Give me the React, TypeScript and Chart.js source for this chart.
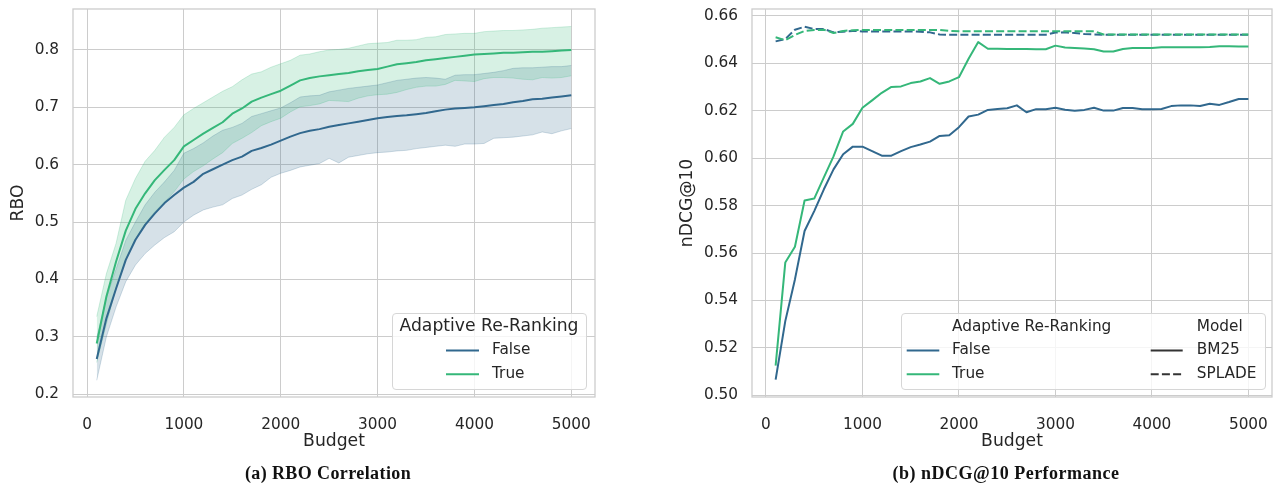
import React, { useEffect, useRef } from 'react';
import { Chart, registerables } from 'chart.js';

Chart.register(...registerables);

// ---------------- data ----------------
const budgets = [
  100, 200, 300, 400, 500, 600, 700, 800, 900, 1000,
  1100, 1200, 1300, 1400, 1500, 1600, 1700, 1800, 1900, 2000,
  2100, 2200, 2300, 2400, 2500, 2600, 2700, 2800, 2900, 3000,
  3100, 3200, 3300, 3400, 3500, 3600, 3700, 3800, 3900, 4000,
  4100, 4200, 4300, 4400, 4500, 4600, 4700, 4800, 4900, 5000,
];

const rboFalse = [
  0.261, 0.332, 0.384, 0.434, 0.469, 0.495, 0.515, 0.533, 0.547, 0.560,
  0.570, 0.584, 0.592, 0.600, 0.608, 0.614, 0.624, 0.629, 0.635, 0.642,
  0.649, 0.655, 0.659, 0.662, 0.666, 0.669, 0.672, 0.675, 0.678, 0.681,
  0.683, 0.685, 0.686, 0.688, 0.690, 0.693, 0.696, 0.698, 0.699, 0.700,
  0.702, 0.704, 0.706, 0.709, 0.711, 0.714, 0.715, 0.717, 0.719, 0.721,
];
const rboFalseLow = [
  0.224, 0.300, 0.352, 0.396, 0.425, 0.445, 0.460, 0.473, 0.483, 0.500,
  0.512, 0.521, 0.526, 0.530, 0.541, 0.547, 0.557, 0.565, 0.578, 0.585,
  0.590, 0.596, 0.599, 0.602, 0.611, 0.603, 0.613, 0.616, 0.619, 0.621,
  0.622, 0.624, 0.625, 0.628, 0.630, 0.632, 0.634, 0.632, 0.636, 0.636,
  0.637, 0.646, 0.647, 0.648, 0.650, 0.652, 0.657, 0.654, 0.659, 0.663,
];
const rboFalseHigh = [
  0.298, 0.368, 0.418, 0.468, 0.500, 0.530, 0.552, 0.570, 0.590, 0.620,
  0.628, 0.638, 0.650, 0.660, 0.665, 0.672, 0.684, 0.689, 0.694, 0.699,
  0.708, 0.718, 0.720, 0.721, 0.727, 0.730, 0.733, 0.735, 0.737, 0.739,
  0.743, 0.747, 0.749, 0.751, 0.752, 0.751, 0.749, 0.756, 0.757, 0.757,
  0.759, 0.761, 0.764, 0.768, 0.769, 0.769, 0.770, 0.771, 0.771, 0.773,
];
const rboTrue = [
  0.288, 0.370, 0.431, 0.485, 0.523, 0.550, 0.573, 0.591, 0.608, 0.632,
  0.643, 0.654, 0.664, 0.674, 0.689, 0.698, 0.710, 0.717, 0.723, 0.729,
  0.738, 0.747, 0.751, 0.754, 0.756, 0.758, 0.760, 0.763, 0.765, 0.767,
  0.771, 0.775, 0.777, 0.779, 0.782, 0.784, 0.786, 0.788, 0.790, 0.792,
  0.793, 0.794, 0.795, 0.795, 0.796, 0.797, 0.797, 0.798, 0.799, 0.800,
];
const rboTrueLow = [
  0.255, 0.322, 0.385, 0.435, 0.470, 0.497, 0.518, 0.535, 0.553, 0.575,
  0.588, 0.598, 0.610, 0.621, 0.637, 0.646, 0.656, 0.668, 0.675, 0.681,
  0.692, 0.701, 0.703, 0.706, 0.712, 0.711, 0.710, 0.716, 0.720, 0.722,
  0.723, 0.726, 0.731, 0.735, 0.737, 0.737, 0.740, 0.747, 0.746, 0.745,
  0.750, 0.752, 0.752, 0.751, 0.749, 0.748, 0.752, 0.751, 0.752, 0.755,
];
const rboTrueHigh = [
  0.335, 0.410, 0.463, 0.538, 0.576, 0.606, 0.625, 0.648, 0.665, 0.687,
  0.698, 0.708, 0.718, 0.728, 0.736, 0.748, 0.758, 0.762, 0.770, 0.776,
  0.782, 0.791, 0.793, 0.797, 0.800, 0.801, 0.803, 0.807, 0.811, 0.812,
  0.813, 0.817, 0.817, 0.818, 0.822, 0.823, 0.827, 0.828, 0.829, 0.829,
  0.832, 0.833, 0.834, 0.834, 0.835, 0.836, 0.838, 0.839, 0.840, 0.841,
];

const ndcgBm25False = [
  0.5066, 0.5313, 0.5489, 0.5693, 0.5777, 0.5869, 0.5953, 0.6017, 0.6049, 0.6049,
  0.6030, 0.6011, 0.6011, 0.6030, 0.6047, 0.6058, 0.6070, 0.6094, 0.6097, 0.6131,
  0.6176, 0.6184, 0.6204, 0.6208, 0.6211, 0.6223, 0.6194, 0.6207, 0.6207, 0.6213,
  0.6205, 0.6200, 0.6204, 0.6213, 0.6201, 0.6201, 0.6212, 0.6212, 0.6207, 0.6207,
  0.6208, 0.6220, 0.6223, 0.6223, 0.6220, 0.6230, 0.6225, 0.6237, 0.6250, 0.6250,
];
const ndcgBm25True = [
  0.5125, 0.5560, 0.5627, 0.5822, 0.5830, 0.5919, 0.6008, 0.6113, 0.6145, 0.6213,
  0.6244, 0.6276, 0.6301, 0.6303, 0.6317, 0.6324, 0.6338, 0.6314, 0.6324, 0.6342,
  0.6420, 0.6490, 0.6462, 0.6462, 0.6461, 0.6461, 0.6461, 0.6460, 0.6460, 0.6475,
  0.6467, 0.6465, 0.6463, 0.6460, 0.6450, 0.6450, 0.6461, 0.6465, 0.6465, 0.6465,
  0.6468, 0.6468, 0.6468, 0.6468, 0.6468, 0.6469, 0.6472, 0.6472, 0.6471, 0.6471,
];
const ndcgSpladeFalse = [
  0.6493, 0.6503, 0.6542, 0.6555, 0.6545, 0.6545, 0.6531, 0.6534, 0.6537, 0.6535,
  0.6535, 0.6535, 0.6535, 0.6535, 0.6535, 0.6534, 0.6531, 0.6522, 0.6521, 0.6521,
  0.6521, 0.6521, 0.6521, 0.6521, 0.6521, 0.6521, 0.6521, 0.6521, 0.6521, 0.6530,
  0.6531, 0.6528, 0.6524, 0.6522, 0.6521, 0.6521, 0.6521, 0.6521, 0.6521, 0.6521,
  0.6521, 0.6521, 0.6521, 0.6521, 0.6521, 0.6521, 0.6521, 0.6521, 0.6521, 0.6521,
];
const ndcgSpladeTrue = [
  0.6510, 0.6498, 0.6520, 0.6537, 0.6541, 0.6542, 0.6528, 0.6537, 0.6540, 0.6541,
  0.6541, 0.6541, 0.6541, 0.6541, 0.6541, 0.6541, 0.6541, 0.6541, 0.6537, 0.6536,
  0.6536, 0.6536, 0.6536, 0.6536, 0.6536, 0.6536, 0.6536, 0.6536, 0.6536, 0.6536,
  0.6536, 0.6536, 0.6536, 0.6536, 0.6522, 0.6522, 0.6522, 0.6522, 0.6522, 0.6522,
  0.6522, 0.6522, 0.6522, 0.6522, 0.6522, 0.6522, 0.6522, 0.6522, 0.6522, 0.6522,
];

const budgetTicks = [0, 1000, 2000, 3000, 4000, 5000];
const budgetTickLabels = ['0', '1000', '2000', '3000', '4000', '5000'];
const rboTicks = [0.2, 0.3, 0.4, 0.5, 0.6, 0.7, 0.8];
const rboTickLabels = ['0.2', '0.3', '0.4', '0.5', '0.6', '0.7', '0.8'];
const ndcgTicks = [0.5, 0.52, 0.54, 0.56, 0.58, 0.6, 0.62, 0.64, 0.66];
const ndcgTickLabels = ['0.50', '0.52', '0.54', '0.56', '0.58', '0.60', '0.62', '0.64', '0.66'];

const hueTitle = 'Adaptive Re-Ranking';
const hueLabels = ['False', 'True'];
const styleTitle = 'Model';
const styleLabels = ['BM25', 'SPLADE'];

// ---------------- style ----------------
const GRID = '#cccccc';
const TEXT = '#262626';
const FAMILY = "'DejaVu Sans', sans-serif";
const TICK_SIZE = 15.3;
const LABEL_SIZE = 17.2;
const BLUE = '#31688e';
const GREEN = '#35b779';
const BLUE_BAND = 'rgba(49,104,142,0.2)';
const GREEN_BAND = 'rgba(53,183,121,0.2)';
const BLUE_EDGE = 'rgba(49,104,142,0.22)';
const GREEN_EDGE = 'rgba(53,183,121,0.22)';

const pts = (ys: number[]) => budgets.map((b, i) => ({ x: b, y: ys[i] }));

type LegendText = { t: string; x: number; y: number; align: CanvasTextAlign; size: number };
type LegendLine = { x0: number; x1: number; y: number; color: string; dash: number[] };
type LegendCfg = { box: [number, number, number, number]; texts: LegendText[]; lines: LegendLine[] };

function legendPlugin(cfg: LegendCfg) {
  return {
    id: 'boxLegend',
    afterDraw(chart: any) {
      const ctx: CanvasRenderingContext2D = chart.ctx;
      ctx.save();
      const [x, y, w, h] = cfg.box;
      ctx.beginPath();
      (ctx as any).roundRect(x + 0.5, y + 0.5, w, h, 3.5);
      ctx.fillStyle = 'rgba(255,255,255,0.8)';
      ctx.fill();
      ctx.lineWidth = 1;
      ctx.strokeStyle = '#d6d6d6';
      ctx.stroke();
      for (const l of cfg.lines) {
        ctx.beginPath();
        ctx.setLineDash(l.dash);
        ctx.lineWidth = 2;
        ctx.strokeStyle = l.color;
        ctx.moveTo(l.x0, l.y);
        ctx.lineTo(l.x1, l.y);
        ctx.stroke();
      }
      ctx.setLineDash([]);
      ctx.fillStyle = TEXT;
      ctx.textBaseline = 'middle';
      for (const t of cfg.texts) {
        ctx.font = `${t.size}px ${FAMILY}`;
        ctx.textAlign = t.align;
        ctx.fillText(t.t, t.x, t.y);
      }
      ctx.restore();
    },
  };
}

const framePlugin = {
  id: 'frame',
  afterDatasetsDraw(chart: any) {
    const { ctx, chartArea: a } = chart;
    ctx.save();
    ctx.strokeStyle = GRID;
    ctx.lineWidth = 1.3;
    ctx.strokeRect(a.left, a.top, a.right - a.left, a.bottom - a.top);
    ctx.restore();
  },
};

function xScale() {
  return {
    type: 'linear',
    min: -145,
    max: 5245,
    afterBuildTicks: (s: any) => {
      s.ticks = budgetTicks.map((v) => ({ value: v }));
    },
    afterFit: (s: any) => {
      s.height = 88;
      s.paddingLeft = 0;
      s.paddingRight = 0;
    },
    grid: { color: GRID, lineWidth: 1, drawTicks: false },
    border: { display: false },
    ticks: {
      color: TEXT,
      font: { family: FAMILY, size: TICK_SIZE },
      padding: 19,
      autoSkip: false,
      maxRotation: 0,
      callback: (_v: any, i: number) => budgetTickLabels[i],
    },
    title: {
      display: true,
      text: 'Budget',
      color: TEXT,
      font: { family: FAMILY, size: LABEL_SIZE },
      padding: { top: 0, bottom: 32.7 },
    },
  };
}

function yScale(min: number, max: number, ticks: number[], labels: string[], width: number, title: string, titlePad: number) {
  return {
    type: 'linear',
    min,
    max,
    afterBuildTicks: (s: any) => {
      s.ticks = ticks.map((v) => ({ value: v }));
    },
    afterFit: (s: any) => {
      s.width = width;
      s.paddingTop = 0;
      s.paddingBottom = 0;
    },
    grid: { color: GRID, lineWidth: 1, drawTicks: false },
    border: { display: false },
    ticks: {
      color: TEXT,
      font: { family: FAMILY, size: TICK_SIZE },
      padding: 14,
      autoSkip: false,
      callback: (_v: any, i: number) => labels[i],
    },
    title: {
      display: true,
      text: title,
      color: TEXT,
      font: { family: FAMILY, size: LABEL_SIZE },
      padding: { top: titlePad, bottom: 0 },
    },
  };
}

const lineBase = {
  pointRadius: 0,
  tension: 0,
  borderJoinStyle: 'round' as const,
  borderCapStyle: 'butt' as const,
};

function leftConfig(): any {
  return {
    type: 'line',
    data: {
      datasets: [
        { ...lineBase, label: 'False low', data: pts(rboFalseLow), borderColor: BLUE_EDGE, borderWidth: 1, fill: false, order: 3 },
        { ...lineBase, label: 'False high', data: pts(rboFalseHigh), borderColor: BLUE_EDGE, borderWidth: 1, fill: '-1', backgroundColor: BLUE_BAND, order: 3 },
        { ...lineBase, label: 'True low', data: pts(rboTrueLow), borderColor: GREEN_EDGE, borderWidth: 1, fill: false, order: 2 },
        { ...lineBase, label: 'True high', data: pts(rboTrueHigh), borderColor: GREEN_EDGE, borderWidth: 1, fill: '-1', backgroundColor: GREEN_BAND, order: 2 },
        { ...lineBase, label: hueLabels[0], data: pts(rboFalse), borderColor: BLUE, borderWidth: 2, fill: false, order: 1 },
        { ...lineBase, label: hueLabels[1], data: pts(rboTrue), borderColor: GREEN, borderWidth: 2, fill: false, order: 0 },
      ],
    },
    options: {
      responsive: false,
      animation: false,
      events: [],
      layout: { padding: { left: 0, right: 45, top: 9, bottom: 0 } },
      scales: {
        x: xScale(),
        y: yScale(0.1948, 0.8715, rboTicks, rboTickLabels, 73, 'RBO', 8),
      },
      plugins: {
        legend: { display: false },
        tooltip: { enabled: false },
        filler: { drawTime: 'beforeDatasetsDraw' },
      },
    },
    plugins: [
      framePlugin,
      legendPlugin({
        box: [392, 313, 194, 76],
        texts: [
          { t: hueTitle, x: 489, y: 327, align: 'center', size: LABEL_SIZE },
          { t: hueLabels[0], x: 492, y: 350.5, align: 'left', size: TICK_SIZE },
          { t: hueLabels[1], x: 492, y: 374.3, align: 'left', size: TICK_SIZE },
        ],
        lines: [
          { x0: 446, x1: 479, y: 350.5, color: BLUE, dash: [] },
          { x0: 446, x1: 479, y: 374.3, color: GREEN, dash: [] },
        ],
      }),
    ],
  };
}

function rightConfig(): any {
  return {
    type: 'line',
    data: {
      datasets: [
        { ...lineBase, label: `${hueLabels[0]} ${styleLabels[0]}`, data: pts(ndcgBm25False), borderColor: BLUE, borderWidth: 2, fill: false, order: 4 },
        { ...lineBase, label: `${hueLabels[1]} ${styleLabels[0]}`, data: pts(ndcgBm25True), borderColor: GREEN, borderWidth: 2, fill: false, order: 3 },
        { ...lineBase, label: `${hueLabels[0]} ${styleLabels[1]}`, data: pts(ndcgSpladeFalse), borderColor: BLUE, borderWidth: 2, borderDash: [8, 3.2], fill: false, order: 2 },
        { ...lineBase, label: `${hueLabels[1]} ${styleLabels[1]}`, data: pts(ndcgSpladeTrue), borderColor: GREEN, borderWidth: 2, borderDash: [8, 3.2], fill: false, order: 1 },
      ],
    },
    options: {
      responsive: false,
      animation: false,
      events: [],
      layout: { padding: { left: 0, right: 4, top: 9, bottom: 0 } },
      scales: {
        x: xScale(),
        y: yScale(0.4993, 0.66295, ndcgTicks, ndcgTickLabels, 112, 'nDCG@10', 37),
      },
      plugins: {
        legend: { display: false },
        tooltip: { enabled: false },
      },
    },
    plugins: [
      framePlugin,
      legendPlugin({
        box: [261, 313, 364, 76],
        texts: [
          { t: hueTitle, x: 312, y: 327, align: 'left', size: TICK_SIZE },
          { t: hueLabels[0], x: 312, y: 350.5, align: 'left', size: TICK_SIZE },
          { t: hueLabels[1], x: 312, y: 374.3, align: 'left', size: TICK_SIZE },
          { t: styleTitle, x: 556.7, y: 327, align: 'left', size: TICK_SIZE },
          { t: styleLabels[0], x: 556.7, y: 350.5, align: 'left', size: TICK_SIZE },
          { t: styleLabels[1], x: 556.7, y: 374.3, align: 'left', size: TICK_SIZE },
        ],
        lines: [
          { x0: 266.7, x1: 299.3, y: 350.5, color: BLUE, dash: [] },
          { x0: 266.7, x1: 299.3, y: 374.3, color: GREEN, dash: [] },
          { x0: 510.7, x1: 542.7, y: 350.5, color: '#333333', dash: [] },
          { x0: 510.7, x1: 542.7, y: 374.3, color: '#333333', dash: [8, 3.2] },
        ],
      }),
    ],
  };
}

function captionStyle(center: number, spacing: number): React.CSSProperties {
  return {
    position: 'absolute',
    left: center - 200,
    top: 464,
    width: 400,
    textAlign: 'center',
    fontFamily: "'Liberation Serif', serif",
    fontWeight: 'bold',
    fontSize: 18,
    lineHeight: '18px',
    letterSpacing: spacing,
    color: '#111',
    whiteSpace: 'nowrap',
  };
}

export default function App() {
  const leftRef = useRef<HTMLCanvasElement>(null);
  const rightRef = useRef<HTMLCanvasElement>(null);

  useEffect(() => {
    const c1 = new Chart(leftRef.current as HTMLCanvasElement, leftConfig());
    const c2 = new Chart(rightRef.current as HTMLCanvasElement, rightConfig());
    return () => {
      c1.destroy();
      c2.destroy();
    };
  }, []);

  return (
    <div style={{ position: 'fixed', left: 0, top: 0, width: 1276, height: 485, background: '#fff', overflow: 'hidden' }}>
      <canvas ref={leftRef} width={640} height={485} style={{ position: 'absolute', left: 0, top: 0, width: 640, height: 485 }} />
      <canvas ref={rightRef} width={636} height={485} style={{ position: 'absolute', left: 640, top: 0, width: 636, height: 485 }} />
      <div style={captionStyle(328, 0.4)}>(a) RBO Correlation</div>
      <div style={captionStyle(1006, 0.5)}>(b) nDCG@10 Performance</div>
    </div>
  );
}
